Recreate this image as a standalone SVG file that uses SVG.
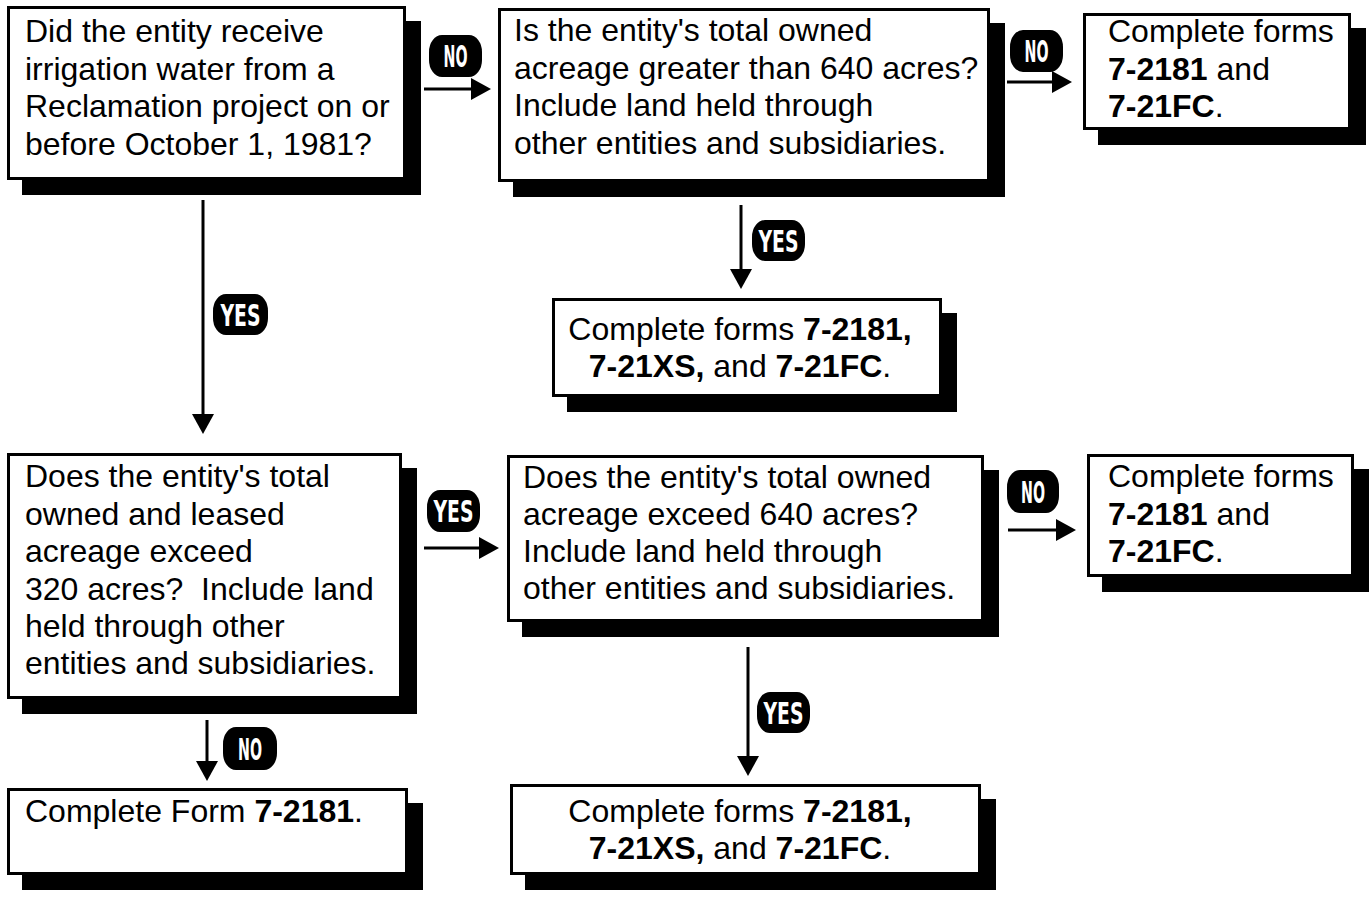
<svg xmlns="http://www.w3.org/2000/svg" width="1372" height="898" viewBox="0 0 1372 898">
<style>
.box{fill:#fff;stroke:#000;stroke-width:3}
.sh{fill:#000}
.t{font-family:"Liberation Sans",Arial,sans-serif;font-size:32px;fill:#000}
.b{font-weight:bold}
.c{stroke:#000;stroke-width:3;fill:none;marker-end:url(#ah)}
.bd{fill:#000}
.bt{font-family:"DejaVu Sans",sans-serif;font-weight:bold;font-size:30px;fill:#fff;text-anchor:middle}
</style>
<defs>
<marker id="ah" markerUnits="userSpaceOnUse" markerWidth="22" markerHeight="24" refX="1" refY="11" orient="auto">
<path d="M0,0 L20,11 L0,22 z" fill="#000"/>
</marker>
</defs>
<rect width="1372" height="898" fill="#fff"/>
<g id="connectors">
<path class="c" d="M424,89 H472"/>
<path class="c" d="M1007,82 H1053"/>
<path class="c" d="M741,205 V270"/>
<path class="c" d="M203,200 V415"/>
<path class="c" d="M424,548 H480"/>
<path class="c" d="M1008,530 H1057"/>
<path class="c" d="M748,647 V757"/>
<path class="c" d="M207,720 V762"/>
<g id="badges">
<rect class="bd" x="429" y="35" width="53" height="42" rx="13" ry="17"/><text class="bt" x="455.5" y="67" textLength="24" lengthAdjust="spacingAndGlyphs">NO</text>
<rect class="bd" x="1010" y="30" width="53" height="42" rx="13" ry="17"/><text class="bt" x="1036.5" y="62" textLength="24" lengthAdjust="spacingAndGlyphs">NO</text>
<rect class="bd" x="752" y="220" width="53" height="41" rx="13" ry="17"/><text class="bt" x="778.5" y="251.5" textLength="40" lengthAdjust="spacingAndGlyphs">YES</text>
<rect class="bd" x="213" y="294" width="55" height="41" rx="13" ry="17"/><text class="bt" x="240.5" y="325.5" textLength="40" lengthAdjust="spacingAndGlyphs">YES</text>
<rect class="bd" x="427" y="490" width="53" height="42" rx="13" ry="17"/><text class="bt" x="453.5" y="522" textLength="40" lengthAdjust="spacingAndGlyphs">YES</text>
<rect class="bd" x="1007" y="470" width="52" height="43" rx="13" ry="17"/><text class="bt" x="1033" y="502.5" textLength="24" lengthAdjust="spacingAndGlyphs">NO</text>
<rect class="bd" x="757" y="692" width="53" height="41" rx="13" ry="17"/><text class="bt" x="783.5" y="723.5" textLength="40" lengthAdjust="spacingAndGlyphs">YES</text>
<rect class="bd" x="223" y="727" width="54" height="43" rx="13" ry="17"/><text class="bt" x="250" y="759.5" textLength="24" lengthAdjust="spacingAndGlyphs">NO</text>
</g>
</g>
<g id="q1">
<rect class="sh" x="22" y="21" width="399" height="174"/>
<rect class="box" x="8.5" y="7.5" width="396" height="171"/>
<text class="t" x="25" y="42">Did the entity receive</text>
<text class="t" x="25" y="80">irrigation water from a</text>
<text class="t" x="25" y="117">Reclamation project on or</text>
<text class="t" x="25" y="155">before October 1, 1981?</text>
</g>
<g id="q2">
<rect class="sh" x="513" y="23" width="492" height="174"/>
<rect class="box" x="499.5" y="9.5" width="489" height="171"/>
<text class="t" x="514" y="41">Is the entity's total owned</text>
<text class="t" x="514" y="79">acreage greater than 640 acres?</text>
<text class="t" x="514" y="116">Include land held through</text>
<text class="t" x="514" y="154">other entities and subsidiaries.</text>
</g>
<g id="r1">
<rect class="sh" x="1098" y="28" width="268" height="117"/>
<rect class="box" x="1084.5" y="14.5" width="265" height="114"/>
<text class="t" x="1108" y="42">Complete forms</text>
<text class="t" x="1108" y="80"><tspan class="b">7-2181</tspan> and</text>
<text class="t" x="1108" y="117"><tspan class="b">7-21FC</tspan>.</text>
</g>
<g id="r2">
<rect class="sh" x="567" y="313" width="390" height="99"/>
<rect class="box" x="553.5" y="299.5" width="387" height="96"/>
<text class="t" x="740" y="340" text-anchor="middle">Complete forms <tspan class="b">7-2181,</tspan></text>
<text class="t" x="740" y="377" text-anchor="middle"><tspan class="b">7-21XS,</tspan> and <tspan class="b">7-21FC</tspan>.</text>
</g>
<g id="q3">
<rect class="sh" x="22" y="468" width="395" height="246"/>
<rect class="box" x="8.5" y="454.5" width="392" height="243"/>
<text class="t" x="25" y="487">Does the entity's total</text>
<text class="t" x="25" y="525">owned and leased</text>
<text class="t" x="25" y="562">acreage exceed</text>
<text class="t" x="25" y="600" xml:space="preserve">320 acres?  Include land</text>
<text class="t" x="25" y="637">held through other</text>
<text class="t" x="25" y="674">entities and subsidiaries.</text>
</g>
<g id="q4">
<rect class="sh" x="522" y="470" width="477" height="167"/>
<rect class="box" x="508.5" y="456.5" width="474" height="164"/>
<text class="t" x="523" y="488">Does the entity's total owned</text>
<text class="t" x="523" y="525">acreage exceed 640 acres?</text>
<text class="t" x="523" y="562">Include land held through</text>
<text class="t" x="523" y="599">other entities and subsidiaries.</text>
</g>
<g id="r3">
<rect class="sh" x="1102" y="469" width="267" height="123"/>
<rect class="box" x="1088.5" y="455.5" width="264" height="120"/>
<text class="t" x="1108" y="487">Complete forms</text>
<text class="t" x="1108" y="525"><tspan class="b">7-2181</tspan> and</text>
<text class="t" x="1108" y="562"><tspan class="b">7-21FC</tspan>.</text>
</g>
<g id="r4">
<rect class="sh" x="22" y="803" width="401" height="87"/>
<rect class="box" x="8.5" y="789.5" width="398" height="84"/>
<text class="t" x="25" y="822">Complete Form <tspan class="b">7-2181</tspan>.</text>
</g>
<g id="r5">
<rect class="sh" x="525" y="799" width="471" height="91"/>
<rect class="box" x="511.5" y="785.5" width="468" height="88"/>
<text class="t" x="740" y="822" text-anchor="middle">Complete forms <tspan class="b">7-2181,</tspan></text>
<text class="t" x="740" y="859" text-anchor="middle"><tspan class="b">7-21XS,</tspan> and <tspan class="b">7-21FC</tspan>.</text>
</g>
</svg>
